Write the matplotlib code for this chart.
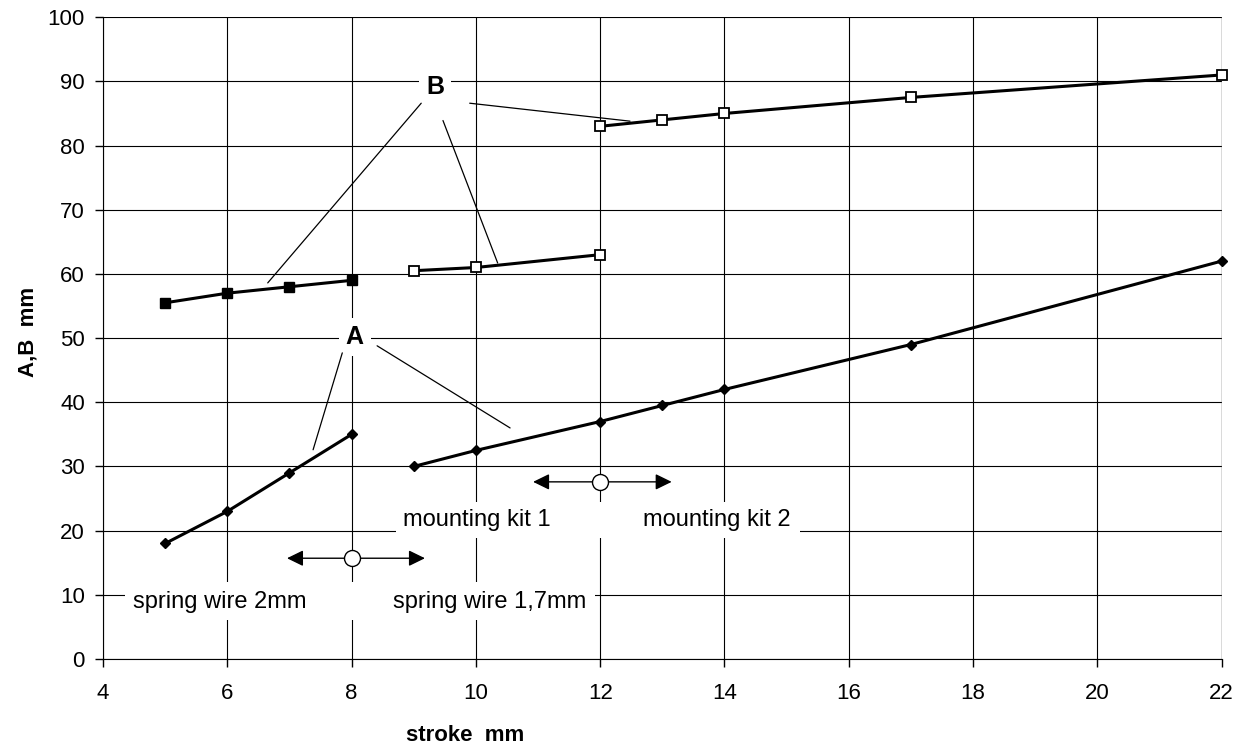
import matplotlib.pyplot as plt
from matplotlib.patches import Rectangle

plt.rcParams['font.family'] = ['Liberation Sans', 'DejaVu Sans']

# curve B (upper), three pieces
b1_x = [5, 6, 7, 8]
b1_y = [55.5, 57, 58, 59]
b2_x = [9, 10, 12]
b2_y = [60.5, 61, 63]
b3_x = [12, 13, 14, 17, 22]
b3_y = [83, 84, 85, 87.5, 91]

# curve A (lower), two pieces
a1_x = [5, 6, 7, 8]
a1_y = [18, 23, 29, 35]
a2_x = [9, 10, 12, 13, 14, 17, 22]
a2_y = [30, 32.5, 37, 39.5, 42, 49, 62]

x_ticks = [4, 6, 8, 10, 12, 14, 16, 18, 20, 22]
y_ticks = [0, 10, 20, 30, 40, 50, 60, 70, 80, 90, 100]

fig = plt.figure(figsize=(12.34, 7.48), dpi=100)
ax = fig.add_axes([0.0835, 0.119, 0.9065, 0.858])
ax.set_xlim(4, 22)
ax.set_ylim(0, 100)
ax.set_xticks(x_ticks)
ax.set_yticks(y_ticks)
ax.tick_params(labelsize=16, direction='out', length=6, width=1)
ax.tick_params(axis='x', pad=11)
ax.tick_params(axis='y', pad=7)
ax.spines['top'].set_visible(False)
ax.spines['right'].set_visible(False)
ax.grid(True, color='black', linewidth=0.8, zorder=0)
ax.set_axisbelow(True)
ax.set_xlabel("stroke  mm", fontsize=16, fontweight='bold')
ax.xaxis.set_label_coords(0.324, -0.103)
ax.set_ylabel("A,B  mm", fontsize=16, fontweight='bold')
ax.yaxis.set_label_coords(-0.058, 0.51)

lw = 2.2
ax.plot(b1_x, b1_y, color='black', lw=lw, marker='s', ms=7, zorder=5)
ax.plot(b2_x, b2_y, color='black', lw=lw, marker='s', ms=7, mfc='white', mew=1.3, zorder=5)
ax.plot(b3_x, b3_y, color='black', lw=lw, marker='s', ms=7, mfc='white', mew=1.3, zorder=5, clip_on=False)
ax.plot(a1_x, a1_y, color='black', lw=lw, marker='D', ms=5.5, zorder=5)
ax.plot(a2_x, a2_y, color='black', lw=lw, marker='D', ms=5.5, zorder=5, clip_on=False)

# white boxes behind the range labels
for (x0, y0, w, h) in [(8.71, 18.85, 6.5, 5.6), (4.35, 6.05, 7.56, 5.95)]:
    ax.add_patch(Rectangle((x0, y0), w, h, facecolor='white', edgecolor='none', zorder=2))

ax.text(10.02, 21.6, "mounting kit 1", fontsize=17, ha='center', va='center', zorder=3)
ax.text(13.88, 21.6, "mounting kit 2", fontsize=17, ha='center', va='center', zorder=3)
ax.text(5.88, 8.9, "spring wire 2mm", fontsize=17, ha='center', va='center', zorder=3)
ax.text(10.22, 8.9, "spring wire 1,7mm", fontsize=17, ha='center', va='center', zorder=3)

# range arrows with circle
for cx, cy, left, right in [(12, 27.6, 10.92, 13.15), (8, 15.7, 6.96, 9.18)]:
    for end in (left, right):
        ax.annotate('', xy=(end, cy), xytext=(cx, cy),
                    arrowprops=dict(arrowstyle='-|>,head_length=0.45,head_width=0.22',
                                    color='black', lw=1.0,
                                    mutation_scale=22, shrinkA=0, shrinkB=0), zorder=4)
    ax.plot([cx], [cy], marker='o', ms=11.5, mfc='white', mec='black', mew=1.0, zorder=6)

# curve labels with leader lines
ax.text(9.34, 89.1, "B", fontsize=18, fontweight='bold', ha='center', va='center', zorder=4,
        bbox=dict(facecolor='white', edgecolor='none', pad=5))
for start, end in [((9.12, 86.6), (6.65, 58.6)), ((9.47, 83.9), (10.35, 61.7)),
                   ((9.9, 86.6), (12.48, 83.8))]:
    ax.annotate('', xy=end, xytext=start,
                arrowprops=dict(arrowstyle='-', color='black', lw=0.9, shrinkA=0, shrinkB=0), zorder=4)

ax.text(8.05, 50.2, "A", fontsize=18, fontweight='bold', ha='center', va='center', zorder=4,
        bbox=dict(facecolor='white', edgecolor='none', pad=5))
for start, end in [((7.85, 47.7), (7.38, 32.6)), ((8.41, 48.8), (10.55, 36.0))]:
    ax.annotate('', xy=end, xytext=start,
                arrowprops=dict(arrowstyle='-', color='black', lw=0.9, shrinkA=0, shrinkB=0), zorder=4)

# gray right-most grid line
ax.axvline(22, color='gray', lw=1.0, zorder=1)

fig.savefig("out.png", dpi=100)
